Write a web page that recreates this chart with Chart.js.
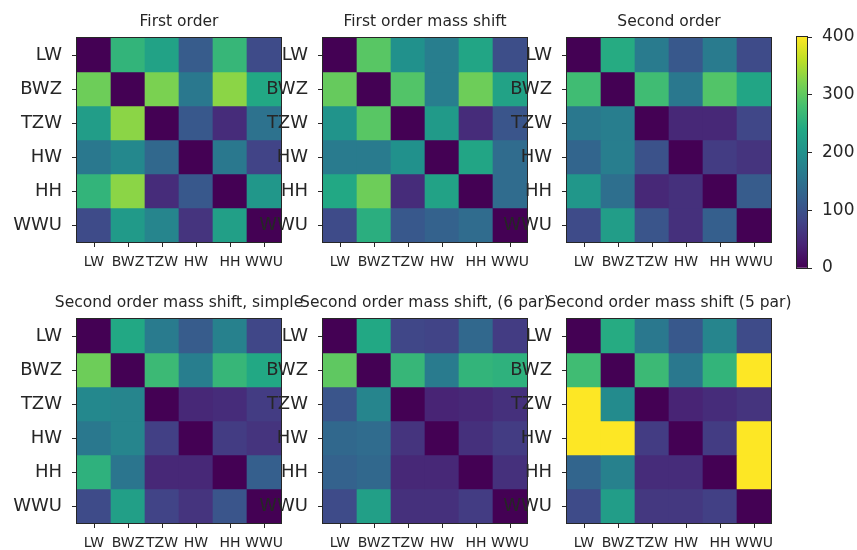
<!DOCTYPE html>
<html>
<head>
<meta charset="utf-8">
<script src="https://cdn.jsdelivr.net/npm/chart.js@4.4.1/dist/chart.umd.min.js"></script>
<style>
  body { margin: 0; background: #fff; }
  #fig { position: relative; width: 857px; height: 550px; overflow: hidden; background: #fff; }
  #fig canvas { position: absolute; }
</style>
</head>
<body>
<div id="fig"></div>
<script>
// Heatmaps of pairwise differences, viridis scale 0..400

const labels = ['LW', 'BWZ', 'TZW', 'HW', 'HH', 'WWU'];
const colorbarTicks = [0, 100, 200, 300, 400];
const vmax = 400;

const firstOrder = [
  [0, 260, 230, 115, 265, 90],
  [310, 0, 320, 160, 330, 240],
  [220, 330, 0, 110, 50, 150],
  [160, 185, 135, 0, 160, 80],
  [260, 330, 50, 110, 0, 210],
  [90, 215, 180, 60, 225, 0]
];
const firstOrderMass = [
  [0, 295, 200, 170, 235, 95],
  [305, 0, 290, 170, 310, 230],
  [205, 295, 0, 215, 50, 105],
  [165, 165, 200, 0, 235, 140],
  [240, 310, 50, 230, 0, 140],
  [90, 250, 110, 125, 140, 0]
];
const secondOrder = [
  [0, 245, 165, 110, 165, 90],
  [275, 0, 275, 160, 290, 235],
  [160, 170, 0, 45, 45, 85],
  [130, 170, 100, 0, 70, 60],
  [210, 145, 45, 55, 0, 115],
  [90, 220, 105, 55, 120, 0]
];
const secondOrderSimple = [
  [0, 240, 165, 115, 175, 85],
  [310, 0, 270, 170, 265, 240],
  [185, 180, 0, 45, 50, 70],
  [160, 180, 75, 0, 70, 60],
  [255, 155, 45, 45, 0, 120],
  [90, 225, 80, 60, 105, 0]
];
const secondOrder6par = [
  [0, 240, 85, 80, 135, 70],
  [300, 0, 265, 165, 260, 255],
  [105, 180, 0, 40, 45, 55],
  [135, 140, 60, 0, 55, 70],
  [125, 135, 45, 45, 0, 55],
  [90, 225, 55, 55, 70, 0]
];
const secondOrder5par = [
  [0, 245, 160, 110, 180, 90],
  [275, 0, 270, 160, 260, 480],
  [480, 190, 0, 40, 50, 60],
  [480, 480, 70, 0, 70, 480],
  [130, 175, 50, 50, 0, 480],
  [90, 220, 65, 65, 75, 0]
];

const panels = [
  { title: 'First order', values: firstOrder, left: 77, top: 38 },
  { title: 'First order mass shift', values: firstOrderMass, left: 323, top: 38 },
  { title: 'Second order', values: secondOrder, left: 567, top: 38 },
  { title: 'Second order mass shift, simple', values: secondOrderSimple, left: 77, top: 319 },
  { title: 'Second order mass shift, (6 par)', values: secondOrder6par, left: 323, top: 319 },
  { title: 'Second order mass shift (5 par)', values: secondOrder5par, left: 567, top: 319 }
];

const viridisStops = ['#440154', '#482475', '#414487', '#355f8d', '#2a788e', '#21918c',
  '#22a884', '#44bf70', '#7ad151', '#bddf26', '#fde725'];

function hexRgb(h) {
  return [1, 3, 5].map(i => parseInt(h.slice(i, i + 2), 16));
}

function viridis(v) {
  const t = Math.max(0, Math.min(1, v / vmax)) * 10;
  const i = Math.min(9, Math.floor(t));
  const f = t - i;
  const a = hexRgb(viridisStops[i]), b = hexRgb(viridisStops[i + 1]);
  const c = a.map((x, k) => Math.round(x + (b[k] - x) * f));
  return `rgb(${c[0]},${c[1]},${c[2]})`;
}

const ink = '#262626';
const font = 'DejaVu Sans';

// axes frame (all four spines)
const frame = {
  id: 'frame',
  afterDraw(chart) {
    const { ctx, chartArea: a } = chart;
    ctx.save();
    ctx.strokeStyle = ink;
    ctx.lineWidth = 1;
    ctx.strokeRect(Math.round(a.left) - 0.5, Math.round(a.top) - 0.5,
      Math.round(a.right - a.left) + 1, Math.round(a.bottom - a.top) + 1);
    ctx.restore();
  }
};

const fig = document.getElementById('fig');

function makePanel(p) {
  const size = 204, side = 80, head = 30, foot = 40;
  const canvas = document.createElement('canvas');
  canvas.width = size + 2 * side;
  canvas.height = head + size + foot;
  canvas.style.left = (p.left - side) + 'px';
  canvas.style.top = (p.top - head) + 'px';
  fig.appendChild(canvas);

  new Chart(canvas, {
    type: 'bar',
    data: {
      labels,
      datasets: p.values.map((row, i) => ({
        label: labels[i],
        data: labels.map(() => 1),
        backgroundColor: row.map(viridis),
        borderWidth: 0,
        barPercentage: 1,
        categoryPercentage: 1
      }))
    },
    options: {
      responsive: false,
      animation: false,
      layout: { padding: 0 },
      plugins: {
        legend: { display: false },
        tooltip: { enabled: false },
        title: {
          display: true, text: p.title, color: ink,
          font: { size: 15.5, family: font, weight: 'normal', lineHeight: '18px' },
          padding: { top: 5, bottom: 7 }
        }
      },
      scales: {
        x: {
          stacked: true,
          grid: { offset: false, drawOnChartArea: false, tickLength: 5, color: ink },
          border: { color: ink },
          ticks: { color: ink, font: { size: 14, family: font }, padding: 7, maxRotation: 0, autoSkip: false },
          afterFit: s => { s.height = foot; }
        },
        y: {
          stacked: true, reverse: true, min: 0, max: labels.length,
          grid: { drawOnChartArea: false, tickLength: 5, color: ink },
          border: { color: ink },
          afterBuildTicks: s => { s.ticks = labels.map((_, i) => ({ value: i + 0.5 })); },
          ticks: { color: ink, font: { size: 18, family: font }, padding: 10, callback: (v, i) => labels[i] },
          afterFit: s => { s.width = side; }
        },
        // empty mirror axis so the title centres over the cells
        yR: {
          type: 'linear', position: 'right',
          grid: { display: false }, border: { display: false }, ticks: { display: false },
          afterFit: s => { s.width = side; }
        }
      }
    },
    plugins: [frame]
  });
}

panels.forEach(makePanel);

// colorbar
(function () {
  const cb = document.createElement('canvas');
  const w = 10, h = 231, axisW = 52, pad = 12;
  cb.width = 2 + w + axisW;
  cb.height = pad + h + pad;
  cb.style.left = '795px';
  cb.style.top = (37 - pad) + 'px';
  fig.appendChild(cb);

  new Chart(cb, {
    type: 'bar',
    data: {
      labels: [''],
      datasets: [{
        data: [vmax],
        borderWidth: 0,
        barPercentage: 1,
        categoryPercentage: 1,
        backgroundColor: c => {
          const area = c.chart.chartArea;
          if (!area) return viridisStops[5];
          const g = c.chart.ctx.createLinearGradient(0, area.bottom, 0, area.top);
          viridisStops.forEach((s, i) => g.addColorStop(i / (viridisStops.length - 1), s));
          return g;
        }
      }]
    },
    options: {
      responsive: false,
      animation: false,
      layout: { padding: { left: 2, right: 0, top: pad, bottom: pad } },
      plugins: { legend: { display: false }, tooltip: { enabled: false } },
      scales: {
        x: { display: false },
        y: {
          position: 'right', min: 0, max: vmax,
          grid: { drawOnChartArea: false, tickLength: 5, color: ink },
          border: { color: ink },
          afterBuildTicks: s => { s.ticks = colorbarTicks.map(v => ({ value: v })); },
          ticks: { color: ink, font: { size: 17, family: font }, padding: 10 },
          afterFit: s => { s.width = axisW; s.paddingTop = 0; s.paddingBottom = 0; }
        }
      }
    },
    plugins: [frame]
  });
})();
</script>
</body>
</html>
